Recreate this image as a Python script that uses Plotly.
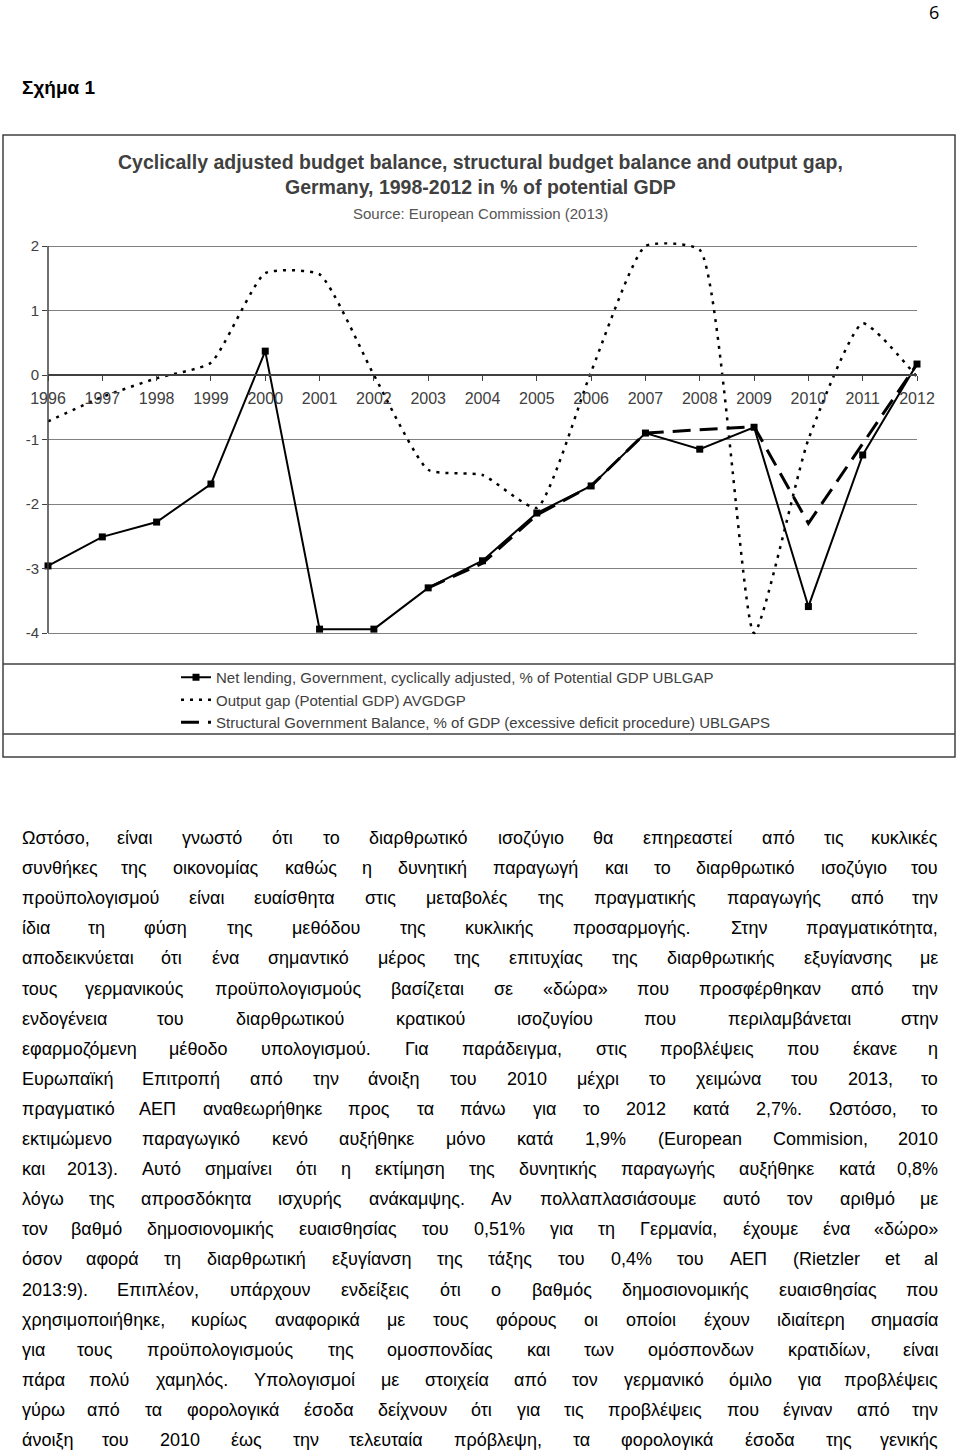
import plotly.graph_objects as go

# ---------------- data ----------------
years = list(range(1996, 2013))
net_lending = [-2.96, -2.51, -2.28, -1.69, 0.37, -3.94, -3.94, -3.30, -2.88,
               -2.14, -1.72, -0.90, -1.15, -0.81, -3.59, -1.24, 0.17]
output_gap = [-0.72, -0.34, -0.05, 0.19, 1.58, 1.56, 0.00, -1.47, -1.55,
              -2.06, 0.05, 2.00, 1.94, -4.00, -1.00, 0.80, -0.03]
struct_years = list(range(2003, 2013))
structural = [-3.30, -2.92, -2.17, -1.72, -0.90, -0.85, -0.80, -2.30, -1.07, 0.17]

y_tick_vals = [-4, -3, -2, -1, 0, 1, 2]
y_tick_text = ["-4", "-3", "-2", "-1", "0", "1", "2"]

series_names = [
    "Net lending, Government, cyclically adjusted, % of Potential GDP UBLGAP",
    "Output gap (Potential GDP) AVGDGP",
    "Structural Government Balance, % of GDP (excessive deficit procedure) UBLGAPS",
]
title_lines = [
    "Cyclically adjusted budget balance, structural budget balance and output gap,",
    "Germany, 1998-2012 in % of potential GDP",
]
source_text = "Source: European Commission (2013)"
page_number = "6"
figure_label = "Σχήμα 1"

body_lines = [
    "Ωστόσο, είναι γνωστό ότι το διαρθρωτικό ισοζύγιο θα επηρεαστεί από τις κυκλικές",
    "συνθήκες της οικονομίας καθώς η δυνητική παραγωγή και το διαρθρωτικό ισοζύγιο του",
    "προϋπολογισμού είναι ευαίσθητα στις μεταβολές της πραγματικής παραγωγής από την",
    "ίδια τη φύση της μεθόδου της κυκλικής προσαρμογής. Στην πραγματικότητα,",
    "αποδεικνύεται ότι ένα σημαντικό μέρος της επιτυχίας της διαρθρωτικής εξυγίανσης με",
    "τους γερμανικούς προϋπολογισμούς βασίζεται σε «δώρα» που προσφέρθηκαν από την",
    "ενδογένεια του διαρθρωτικού κρατικού ισοζυγίου που περιλαμβάνεται στην",
    "εφαρμοζόμενη μέθοδο υπολογισμού. Για παράδειγμα, στις προβλέψεις που έκανε η",
    "Ευρωπαϊκή Επιτροπή από την άνοιξη του 2010 μέχρι το χειμώνα του 2013, το",
    "πραγματικό ΑΕΠ αναθεωρήθηκε προς τα πάνω για το 2012 κατά 2,7%. Ωστόσο, το",
    "εκτιμώμενο παραγωγικό κενό αυξήθηκε μόνο κατά 1,9% (European Commision, 2010",
    "και 2013). Αυτό σημαίνει ότι η εκτίμηση της δυνητικής παραγωγής αυξήθηκε κατά 0,8%",
    "λόγω της απροσδόκητα ισχυρής ανάκαμψης. Αν πολλαπλασιάσουμε αυτό τον αριθμό με",
    "τον βαθμό δημοσιονομικής ευαισθησίας του 0,51% για τη Γερμανία, έχουμε ένα «δώρο»",
    "όσον αφορά τη διαρθρωτική εξυγίανση της τάξης του 0,4% του ΑΕΠ (Rietzler et al",
    "2013:9). Επιπλέον, υπάρχουν ενδείξεις ότι ο βαθμός δημοσιονομικής ευαισθησίας που",
    "χρησιμοποιήθηκε, κυρίως αναφορικά με τους φόρους οι οποίοι έχουν ιδιαίτερη σημασία",
    "για τους προϋπολογισμούς της ομοσπονδίας και των ομόσπονδων κρατιδίων, είναι",
    "πάρα πολύ χαμηλός. Υπολογισμοί με στοιχεία από τον γερμανικό όμιλο για προβλέψεις",
    "γύρω από τα φορολογικά έσοδα δείχνουν ότι για τις προβλέψεις που έγιναν από την",
    "άνοιξη του 2010 έως την τελευταία πρόβλεψη, τα φορολογικά έσοδα της γενικής",
]

# ---------------- layout helpers ----------------
W, H = 960, 1450
FONT = "Liberation Sans, Arial, Helvetica, sans-serif"


def px(x):
    return x / W


def py(y):
    return 1 - y / H


# approximate Arial / Liberation Sans advance widths (per 1000 em) for justification
_W = {}
for ch, w in zip("abcdefghijklmnopqrstuvwxyz",
                 [556, 556, 500, 556, 556, 278, 556, 556, 222, 222, 500, 222, 833, 556, 556,
                  556, 556, 333, 500, 278, 556, 500, 722, 500, 500, 500]):
    _W[ch] = w
for ch, w in zip("ABCDEFGHIJKLMNOPQRSTUVWXYZ",
                 [667, 667, 722, 722, 667, 611, 778, 722, 278, 500, 667, 556, 833, 722, 778,
                  667, 778, 722, 667, 611, 722, 667, 944, 667, 667, 611]):
    _W[ch] = w
for ch, w in zip("αβγδεζηθικλμνξοπρσςτυφχψω",
                 [577, 575, 500, 556, 446, 441, 556, 556, 222, 500, 500, 576, 500, 448, 556,
                  690, 571, 617, 486, 395, 550, 648, 524, 712, 781]):
    _W[ch] = w
for ch, base in zip("άέήίόύώϊϋΐΰ", "αεηιουωιυιυ"):
    _W[ch] = _W[base]
for ch, w in zip("ΑΒΓΔΕΖΗΘΙΚΛΜΝΞΟΠΡΣΤΥΦΧΨΩ",
                 [667, 667, 551, 668, 667, 611, 722, 778, 278, 667, 668, 833, 722, 650, 778,
                  722, 667, 618, 611, 667, 798, 667, 835, 748]):
    _W[ch] = w
for ch in "0123456789":
    _W[ch] = 556
_W.update({",": 278, ".": 278, ":": 278, ";": 278, "(": 333, ")": 333, "%": 889,
           "«": 556, "»": 556, "-": 333, " ": 278})


def text_width(s, size):
    return sum(_W.get(c, 556) for c in s) * size / 1000.0


fig = go.Figure()

fig.add_trace(go.Scatter(
    x=years, y=net_lending, name=series_names[0], mode="lines+markers",
    line=dict(color="black", width=2),
    marker=dict(symbol="square", size=7, color="black"),
    legendgroup="a", cliponaxis=False,
))
fig.add_trace(go.Scatter(
    x=years, y=output_gap, name=series_names[1], mode="lines",
    line=dict(color="black", width=2.5, dash="3px,6px", shape="spline", smoothing=0.5),
    legendgroup="b", cliponaxis=False,
))
fig.add_trace(go.Scatter(
    x=struct_years, y=structural, name=series_names[2], mode="lines",
    line=dict(color="black", width=3, dash="18px,9px"),
    legendgroup="c", cliponaxis=False,
))

annotations = []
annotations.append(dict(x=px(934), y=py(12), text=page_number, showarrow=False,
                        xref="paper", yref="paper", xanchor="center", yanchor="middle",
                        font=dict(family="Open Sans, sans-serif", size=18, color="black")))
annotations.append(dict(x=px(20), y=py(88), text="<b>" + figure_label + "</b>", showarrow=False,
                        xref="paper", yref="paper", xanchor="left", yanchor="middle",
                        font=dict(family=FONT, size=19, color="black")))
for i, t in enumerate(title_lines):
    annotations.append(dict(x=0.5, y=py(162 + 25 * i), text="<b>" + t + "</b>", showarrow=False,
                            xref="paper", yref="paper", xanchor="center", yanchor="middle",
                            font=dict(family=FONT, size=19.5, color="#404040")))
annotations.append(dict(x=0.5, y=py(214), text=source_text, showarrow=False,
                        xref="paper", yref="paper", xanchor="center", yanchor="middle",
                        font=dict(family=FONT, size=15, color="#555555")))

# justified body text: each word placed so the line runs from x=20 to x=940
BODY_SIZE = 18
LEFT, RIGHT = 20, 940
for i, line in enumerate(body_lines):
    words = line.split(" ")
    ws = [text_width(w, BODY_SIZE) for w in words]
    gap = (RIGHT - LEFT - sum(ws)) / max(len(words) - 1, 1)
    ycen = py(838 + i * 30.1)
    xcur = LEFT
    for k, (w, wd) in enumerate(zip(words, ws)):
        if k == 0:
            xa, xp = "left", xcur
        elif k == len(words) - 1:
            xa, xp = "right", RIGHT
        else:
            xa, xp = "center", xcur + wd / 2
        annotations.append(dict(x=px(xp), y=ycen, text=w, showarrow=False,
                                xref="paper", yref="paper", xanchor=xa, yanchor="middle",
                                font=dict(family=FONT, size=BODY_SIZE, color="black")))
        xcur += wd + gap

# y range padded slightly so the smoothed output-gap peaks are not clipped;
# the domain is widened by the same amount so -4..2 keeps its pixel span
Y_MIN, Y_MAX, Y_PAD = -4, 2, 0.06
PLOT_TOP, PLOT_BOTTOM, PLOT_LEFT, PLOT_RIGHT = 246, 633, 48, 917
unit_px = (PLOT_BOTTOM - PLOT_TOP) / (Y_MAX - Y_MIN)
pad_px = Y_PAD * unit_px

shapes = [
    dict(type="rect", xref="paper", yref="paper", x0=px(3), x1=px(955), y0=py(757), y1=py(135),
         line=dict(color="#404040", width=1.5)),
    dict(type="line", xref="paper", yref="paper", x0=px(3), x1=px(955), y0=py(664), y1=py(664),
         line=dict(color="#404040", width=1.5)),
    dict(type="line", xref="paper", yref="paper", x0=px(3), x1=px(955), y0=py(734), y1=py(734),
         line=dict(color="#404040", width=1.5)),
    # y-axis line spanning exactly the labelled range
    dict(type="line", xref="paper", yref="paper", x0=px(PLOT_LEFT), x1=px(PLOT_LEFT),
         y0=py(PLOT_BOTTOM), y1=py(PLOT_TOP),
         line=dict(color="#404040", width=1.5), layer="above"),
]

fig.update_layout(
    width=W, height=H,
    margin=dict(l=0, r=0, t=0, b=0, autoexpand=False),
    paper_bgcolor="white", plot_bgcolor="white",
    font=dict(family=FONT, color="#404040"),
    annotations=annotations,
    shapes=shapes,
    showlegend=True,
    legend=dict(x=px(176), y=py(661), xanchor="left", yanchor="top",
                font=dict(family=FONT, size=15, color="#404040"),
                traceorder="grouped", tracegroupgap=0, itemwidth=30,
                bgcolor="rgba(0,0,0,0)"),
    xaxis=dict(domain=[px(PLOT_LEFT), px(PLOT_RIGHT)], range=[1996, 2012], anchor="free",
               position=py(375),
               tickmode="array", tickvals=years, ticks="outside", ticklen=5,
               tickcolor="#404040", showline=True, linecolor="#404040", linewidth=1.5,
               showgrid=False, zeroline=False, ticklabelstandoff=4, automargin=False,
               tickfont=dict(family=FONT, size=16, color="#404040")),
    yaxis=dict(domain=[py(PLOT_BOTTOM + pad_px), py(PLOT_TOP - pad_px)],
               range=[Y_MIN - Y_PAD, Y_MAX + Y_PAD],
               tickmode="array", tickvals=y_tick_vals, ticktext=y_tick_text,
               ticks="outside", ticklen=5, tickcolor="#404040",
               showline=False, automargin=False,
               showgrid=True, gridcolor="#808080", gridwidth=1, zeroline=False,
               tickfont=dict(family=FONT, size=15, color="#404040")),
)

# remove the default page margin so the 960x1450 figure fills the window exactly
page_css_js = "document.body.style.margin = '0px'; document.body.style.padding = '0px';"

fig.write_html("out.html", post_script=page_css_js, config={"displayModeBar": False})
